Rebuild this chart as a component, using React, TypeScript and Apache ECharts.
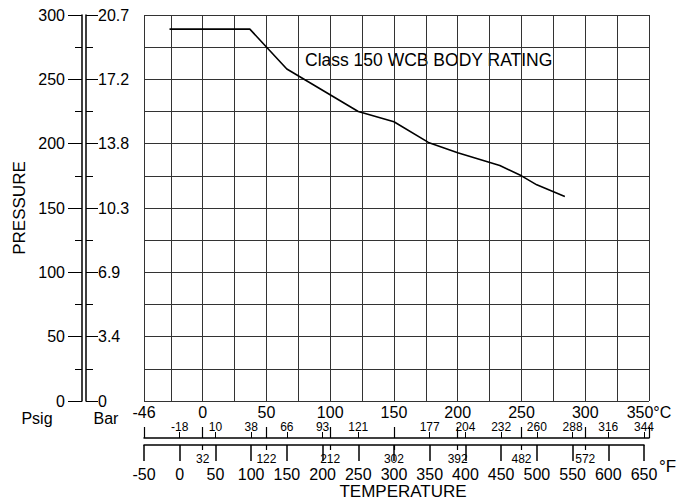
import React, { useEffect, useRef } from 'react';
import * as echarts from 'echarts';

// Rating curve (°C, psig)
const tempC = [-26, 37, 66, 122, 150, 177, 200, 233, 250, 262, 284];
const pressurePsig = [289, 289, 258, 225, 217, 201, 193, 183, 175, 168, 159];

// Bar labels at psig 0, 50, ..., 300
const barLabels = ['0', '3.4', '6.9', '10.3', '13.8', '17.2', '20.7'];
// Celsius equivalents of the °F ticks -50, 0, 50, ..., 650
const fTickCLabels = ['', '-18', '10', '38', '66', '93', '121', '', '177', '204', '232', '260', '288', '316', '344'];
// Fahrenheit equivalents of the °C ticks
const cTickValues = [0, 50, 100, 150, 200, 250, 300];
const cTickFLabels = ['32', '122', '212', '302', '392', '482', '572'];

const FONT = 'Liberation Sans, Arial, Helvetica, sans-serif';

export default function App() {
  const ref = useRef<HTMLDivElement>(null);
  useEffect(() => {
    if (!ref.current) return;
    const chart = echarts.init(ref.current, undefined, { renderer: 'svg' });
    const big = { color: '#000', fontSize: 16, lineHeight: 16, fontFamily: FONT };
    const small = { color: '#000', fontSize: 12, lineHeight: 12, fontFamily: FONT };
    const gridLine = { color: '#333', width: 1 };
    const blackLine = { color: '#000', width: 1.5 };
    chart.setOption({
      animation: false,
      backgroundColor: '#fff',
      textStyle: { fontFamily: FONT },
      grid: [
        { left: 144, top: 15, width: 505, height: 386, containLabel: false, outerBoundsMode: 'none' },
        { left: 144, top: 15, width: 500, height: 386, containLabel: false, outerBoundsMode: 'none' },
      ],
      xAxis: [
        {
          type: 'value', gridIndex: 0, position: 'bottom', min: -46, max: 350,
          splitNumber: 8, minInterval: 50, maxInterval: 50,
          axisLine: { show: false, onZero: false }, axisTick: { show: false },
          axisLabel: {
            ...big, margin: 3, showMinLabel: true, showMaxLabel: true,
            formatter: (v: number) => (v === 350 ? '350°C' : String(v)),
          },
          splitLine: { show: true, lineStyle: gridLine },
          minorTick: { show: false, splitNumber: 2 },
          minorSplitLine: { show: true, lineStyle: gridLine },
        },
        {
          type: 'value', gridIndex: 0, position: 'bottom', offset: 37, min: -46, max: 350,
          splitNumber: 8, minInterval: 50, maxInterval: 50,
          axisLine: { show: true, onZero: false, lineStyle: blackLine },
          axisTick: { show: true, inside: true, length: 11, lineStyle: { color: '#000', width: 1.2 } },
          axisLabel: { show: false }, splitLine: { show: false },
        },
        {
          type: 'value', gridIndex: 1, position: 'bottom', offset: 37, min: -50, max: 650, interval: 50,
          axisLine: { show: false, onZero: false },
          axisTick: { show: true, inside: true, length: 6, lineStyle: { color: '#000', width: 1 } },
          axisLabel: {
            ...small, inside: true, margin: 5,
            formatter: (v: number) => fTickCLabels[Math.round((v + 50) / 50)] ?? '',
          },
          splitLine: { show: false },
        },
        {
          type: 'value', gridIndex: 1, position: 'bottom', offset: 44, min: -50, max: 650, interval: 50,
          axisLine: { show: true, onZero: false, lineStyle: blackLine },
          axisTick: { show: true, length: 16, lineStyle: { color: '#000', width: 1.5 } },
          axisLabel: { ...big, margin: 21 },
          splitLine: { show: false },
          name: 'TEMPERATURE', nameLocation: 'middle', nameGap: 38, nameMoveOverlap: false,
          nameTextStyle: { color: '#000', fontSize: 17, lineHeight: 17, fontFamily: FONT, padding: [0, 0, 0, 18] },
        },
        {
          type: 'value', gridIndex: 0, position: 'bottom', offset: 44, min: -46, max: 350,
          splitNumber: 8, minInterval: 50, maxInterval: 50,
          axisLine: { show: false, onZero: false },
          axisTick: { show: true, length: 5, customValues: cTickValues, lineStyle: { color: '#000', width: 1.2 } },
          axisLabel: {
            ...small, margin: 8, customValues: cTickValues,
            formatter: (v: number) => {
              const i = cTickValues.indexOf(v);
              return i >= 0 ? cTickFLabels[i] : '';
            },
          },
          splitLine: { show: false },
        },
      ],
      yAxis: [
        {
          type: 'value', gridIndex: 0, min: 0, max: 300, interval: 25,
          axisLine: { show: false, onZero: false }, axisTick: { show: false }, axisLabel: { show: false },
          splitLine: { show: true, lineStyle: gridLine },
        },
        {
          type: 'value', gridIndex: 0, position: 'left', offset: 62, min: 0, max: 300, interval: 50,
          axisLine: { show: true, onZero: false, lineStyle: blackLine },
          axisTick: { show: true, length: 14, lineStyle: { color: '#000', width: 1 } },
          minorTick: { show: true, splitNumber: 2, length: 7, lineStyle: { color: '#000', width: 1 } },
          axisLabel: { ...big, margin: 17 },
          splitLine: { show: false },
          name: 'PRESSURE', nameLocation: 'middle', nameGap: 54, nameRotate: 90, nameMoveOverlap: false,
          nameTextStyle: { color: '#000', fontSize: 17, fontFamily: FONT },
        },
        {
          type: 'value', gridIndex: 0, position: 'left', offset: 58, min: 0, max: 300, interval: 50,
          axisLine: { show: true, onZero: false, lineStyle: blackLine },
          axisTick: { show: true, inside: true, length: 12, lineStyle: { color: '#000', width: 1 } },
          minorTick: { show: true, splitNumber: 2, length: 7, lineStyle: { color: '#000', width: 1 } },
          axisLabel: {
            ...big, inside: true, margin: 12,
            formatter: (v: number) => barLabels[Math.round(v / 50)] ?? '',
          },
          splitLine: { show: false },
        },
        { type: 'value', gridIndex: 1, min: 0, max: 300, show: false },
      ],
      graphic: [
        { type: 'text', x: 305, y: 60, style: { text: 'Class 150 WCB BODY RATING', font: `17.5px ${FONT}`, fill: '#000', verticalAlign: 'middle' } },
        { type: 'text', x: 37, y: 418, style: { text: 'Psig', font: `16px ${FONT}`, fill: '#000', align: 'center', verticalAlign: 'middle' } },
        { type: 'text', x: 106, y: 418, style: { text: 'Bar', font: `16px ${FONT}`, fill: '#000', align: 'center', verticalAlign: 'middle' } },
        { type: 'text', x: 659, y: 466, style: { text: '°F', font: `17px ${FONT}`, fill: '#000', verticalAlign: 'middle' } },
      ],
      series: [
        {
          type: 'line', xAxisIndex: 0, yAxisIndex: 0,
          data: tempC.map((t, i) => [t, pressurePsig[i]]),
          symbol: 'none', showSymbol: false, silent: true,
          lineStyle: { color: '#000', width: 1.6 },
        },
      ],
    });
    return () => chart.dispose();
  }, []);
  return <div ref={ref} style={{ position: 'fixed', left: 0, top: 0, width: 680, height: 504, background: '#fff' }} />;
}
